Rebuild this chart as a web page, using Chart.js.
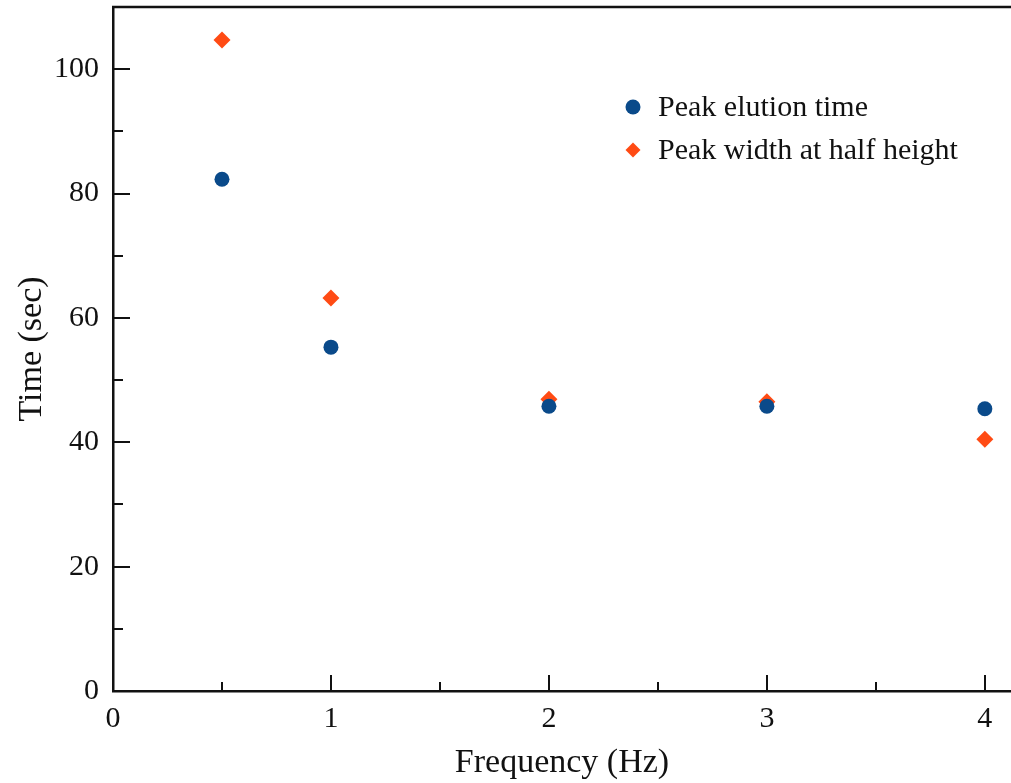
<!DOCTYPE html>
<html>
<head>
<meta charset="utf-8">
<script src="https://cdn.jsdelivr.net/npm/chart.js@4.4.1/dist/chart.umd.min.js"></script>
<style>
  html, body { margin: 0; padding: 0; background: #fff; }
  #wrap { width: 1011px; height: 783px; position: relative; }
</style>
</head>
<body>
<div id="wrap"><canvas id="freq-chart" width="1011" height="783"></canvas></div>
<script>
// values
const frequencies = [0.5, 1, 2, 3, 4];
const elutionTime = [82.3, 55.3, 45.8, 45.8, 45.4];
const halfWidth = [104.7, 63.2, 46.9, 46.5, 40.5];
const xTicks = [0, 1, 2, 3, 4];
const yTicks = [0, 20, 40, 60, 80, 100];
const seriesLabels = ['Peak elution time', 'Peak width at half height'];

const blue = '#0a4a8a';
const orange = '#ff4b14';
const axisColor = '#111';
const font = '"Liberation Serif", "Times New Roman", serif';

const X_MAX = 4.12;
const Y_MAX = 110;

// inward tick marks + top frame line
const frameTicks = {
    id: 'frameTicks',
    afterDatasetsDraw(chart) {
        const { ctx, chartArea: a, scales: { x, y } } = chart;
        ctx.save();
        ctx.strokeStyle = axisColor;
        ctx.lineWidth = 2;
        ctx.beginPath();
        for (let v = 0.5; v <= X_MAX; v += 0.5) {
            const px = Math.round(x.getPixelForValue(v));
            const len = v % 1 === 0 ? 16 : 9;
            ctx.moveTo(px, a.bottom);
            ctx.lineTo(px, a.bottom - len);
        }
        for (let v = 10; v < Y_MAX; v += 10) {
            const py = Math.round(y.getPixelForValue(v));
            const len = v % 20 === 0 ? 17 : 10;
            ctx.moveTo(a.left, py);
            ctx.lineTo(a.left + len, py);
        }
        ctx.stroke();
        ctx.lineWidth = 2.5;
        ctx.beginPath();
        ctx.moveTo(a.left - 1, a.top);
        ctx.lineTo(a.right, a.top);
        ctx.stroke();
        ctx.restore();
    }
};

// legend drawn inside the plot, styles taken from the datasets
const innerLegend = {
    id: 'innerLegend',
    afterDraw(chart) {
        const { ctx } = chart;
        const lx = 633, ly = 107, gap = 43;
        ctx.save();
        ctx.font = '30px ' + font;
        ctx.textBaseline = 'middle';
        chart.data.datasets.forEach((ds, i) => {
            const cy = ly + i * gap;
            ctx.fillStyle = ds.backgroundColor;
            ctx.beginPath();
            if (ds.pointStyle === 'rectRot') {
                const r = ds.pointRadius - 1;
                ctx.moveTo(lx, cy - r);
                ctx.lineTo(lx + r, cy);
                ctx.lineTo(lx, cy + r);
                ctx.lineTo(lx - r, cy);
                ctx.closePath();
            } else {
                ctx.arc(lx, cy, ds.pointRadius, 0, Math.PI * 2);
            }
            ctx.fill();
            ctx.fillStyle = '#111';
            ctx.fillText(ds.label, lx + 25, cy + 1);
        });
        ctx.restore();
    }
};

const ctx = document.getElementById('freq-chart').getContext('2d');
new Chart(ctx, {
    type: 'scatter',
    data: {
        datasets: [
            {
                label: seriesLabels[0],
                data: frequencies.map((f, i) => ({ x: f, y: elutionTime[i] })),
                backgroundColor: blue,
                borderWidth: 0,
                pointStyle: 'circle',
                pointRadius: 7.5,
            },
            {
                label: seriesLabels[1],
                data: frequencies.map((f, i) => ({ x: f, y: halfWidth[i] })),
                backgroundColor: orange,
                borderWidth: 0,
                pointStyle: 'rectRot',
                pointRadius: 8.5,
            },
        ],
    },
    options: {
        responsive: false,
        animation: false,
        layout: { autoPadding: false, padding: { top: 7, right: 0, left: 0, bottom: 0 } },
        plugins: {
            legend: { display: false },
            tooltip: { enabled: false },
        },
        scales: {
            x: {
                type: 'linear',
                min: 0,
                max: X_MAX,
                afterBuildTicks: (s) => { s.ticks = xTicks.map((v) => ({ value: v })); },
                afterFit: (s) => { s.height = 92; s.paddingLeft = 0; s.paddingRight = 0; },
                grid: { display: false, drawTicks: false },
                border: { display: true, color: axisColor, width: 2.5 },
                ticks: { color: '#111', padding: 10, font: { family: font, size: 30 } },
                title: {
                    display: true,
                    text: 'Frequency (Hz)',
                    color: '#111',
                    padding: { top: 0, bottom: 0 },
                    font: { family: font, size: 34 },
                },
            },
            y: {
                min: 0,
                max: Y_MAX,
                afterBuildTicks: (s) => { s.ticks = yTicks.map((v) => ({ value: v })); },
                afterFit: (s) => { s.width = 113; s.paddingTop = 0; s.paddingBottom = 0; },
                grid: { display: false, drawTicks: false },
                border: { display: true, color: axisColor, width: 2.5 },
                ticks: { color: '#111', padding: 14, font: { family: font, size: 30 } },
                title: {
                    display: true,
                    text: 'Time (sec)',
                    color: '#111',
                    padding: { top: 12, bottom: 0 },
                    font: { family: font, size: 34 },
                },
            },
        },
    },
    plugins: [frameTicks, innerLegend],
});
</script>
</body>
</html>
